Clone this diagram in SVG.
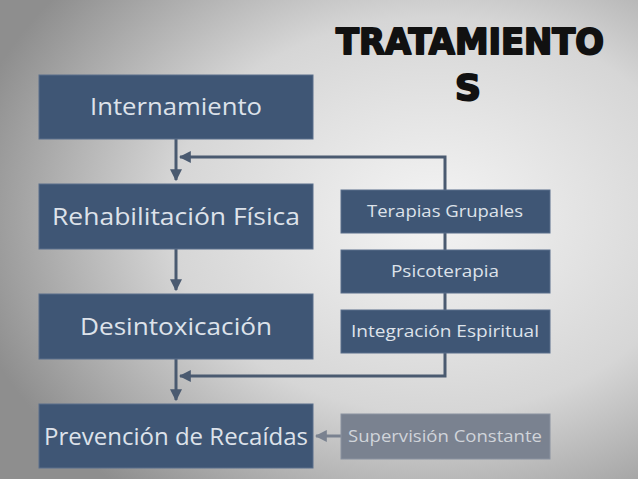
<svg xmlns="http://www.w3.org/2000/svg" width="638" height="479" viewBox="0 0 638 479">
<defs>
<radialGradient id="bg" cx="0.68" cy="0.45" r="0.75">
<stop offset="0" stop-color="#f4f4f4"/><stop offset="0.55" stop-color="#d6d6d6"/><stop offset="1" stop-color="#8e8e8e"/>
</radialGradient>
<marker id="ah" viewBox="0 0 10 10" refX="9" refY="5" markerWidth="4" markerHeight="4" orient="auto"><path d="M0,0 L10,5 L0,10 z" fill="#4a5a70"/></marker>
<marker id="ah2" viewBox="0 0 10 10" refX="9" refY="5" markerWidth="4" markerHeight="4" orient="auto"><path d="M0,0 L10,5 L0,10 z" fill="#7a8290"/></marker>
</defs>
<style>
.b{fill:#3f5675;stroke:#5a6f8c;stroke-width:1}
.m{font-family:"Open Sans","DejaVu Sans",sans-serif;fill:#dde2ea;font-size:23px;text-anchor:middle}
.s{font-family:"Open Sans","DejaVu Sans",sans-serif;fill:#dde2ea;font-size:17px;text-anchor:middle}
.c{fill:none;stroke:#4a5a70;stroke-width:3}
.t{font-family:"DejaVu Sans",sans-serif;font-weight:bold;font-size:36px;fill:#111;stroke:#111;stroke-width:2;stroke-linejoin:round}
</style>
<rect width="638" height="479" fill="url(#bg)"/>
<text class="t" x="470" y="54" text-anchor="middle" textLength="268" lengthAdjust="spacingAndGlyphs">TRATAMIENTO</text>
<text class="t" x="468" y="100" text-anchor="middle">S</text>
<g id="connectors">
<line class="c" x1="176" y1="139" x2="176" y2="180" marker-end="url(#ah)"/>
<line class="c" x1="176" y1="249" x2="176" y2="290" marker-end="url(#ah)"/>
<line class="c" x1="176" y1="359" x2="176" y2="400" marker-end="url(#ah)"/>
<polyline class="c" points="445,190 445,157 180,157" marker-end="url(#ah)"/>
<line class="c" x1="445" y1="233" x2="445" y2="250"/>
<line class="c" x1="445" y1="293" x2="445" y2="310"/>
<polyline class="c" points="445,353 445,376 180,376" marker-end="url(#ah)"/>
<line x1="341" y1="436" x2="316" y2="436" stroke="#7a8290" stroke-width="3" marker-end="url(#ah2)"/>
</g>
<g id="n1"><rect class="b" x="39" y="75" width="274" height="64"/><text class="m" x="176" y="115" textLength="172" lengthAdjust="spacingAndGlyphs">Internamiento</text></g>
<g id="n2"><rect class="b" x="39" y="184" width="274" height="65"/><text class="m" x="176" y="225" textLength="248" lengthAdjust="spacingAndGlyphs">Rehabilitación Física</text></g>
<g id="n3"><rect class="b" x="39" y="294" width="274" height="65"/><text class="m" x="176" y="335" textLength="192" lengthAdjust="spacingAndGlyphs">Desintoxicación</text></g>
<g id="n4"><rect class="b" x="39" y="404" width="274" height="64"/><text class="m" x="176" y="445" textLength="264" lengthAdjust="spacingAndGlyphs">Prevención de Recaídas</text></g>
<g id="r1"><rect class="b" x="341" y="190" width="209" height="43"/><text class="s" x="445" y="217" textLength="156" lengthAdjust="spacingAndGlyphs">Terapias Grupales</text></g>
<g id="r2"><rect class="b" x="341" y="250" width="209" height="43"/><text class="s" x="445" y="277" textLength="108" lengthAdjust="spacingAndGlyphs">Psicoterapia</text></g>
<g id="r3"><rect class="b" x="341" y="310" width="209" height="43"/><text class="s" x="445" y="337" textLength="188" lengthAdjust="spacingAndGlyphs">Integración Espiritual</text></g>
<g id="r4"><rect x="341" y="414" width="209" height="45" fill="#7a8290" stroke="#8a92a0"/><text class="s" x="445" y="442" style="fill:#d0d4da" textLength="194" lengthAdjust="spacingAndGlyphs">Supervisión Constante</text></g>
</svg>
